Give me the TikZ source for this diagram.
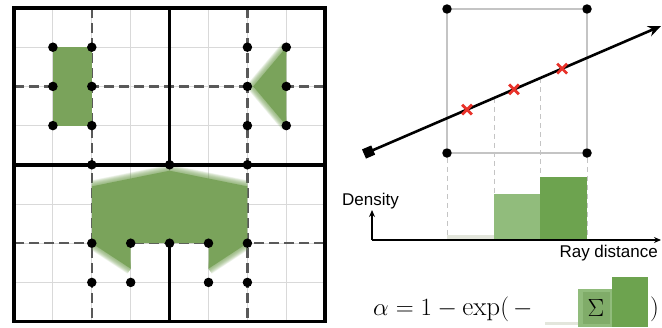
\documentclass[tikz,border=0pt]{standalone}
\usepackage{fontspec}
\newfontfamily\plotfont{Liberation Sans}
\usetikzlibrary{arrows.meta,calc,shapes.misc}
\definecolor{cellgreen}{HTML}{7AA35B}
\definecolor{binlight}{HTML}{91BC7C}
\definecolor{bindark}{HTML}{6DA34F}
\definecolor{binpale}{HTML}{E3E6DC}
\definecolor{sumgreen}{HTML}{80AC69}
\definecolor{boxgray}{HTML}{C4C4C4}
\definecolor{xred}{HTML}{E8322A}
\tikzset{
  dot/.style={circle,fill=black,inner sep=0pt,minimum size=9.5pt},
  sample/.style={cross out,draw=xred,line width=2.8pt,minimum size=7pt,inner sep=0pt},
  softedge/.style={cellgreen,opacity=.1,line join=round},
  plotlabel/.style={font=\plotfont\fontsize{17}{20}\selectfont,inner sep=0pt},
  mathbig/.style={inner sep=0pt,font=\fontsize{27}{32}\selectfont},
}

\begin{document}
\begin{tikzpicture}[x=1pt,y=-1pt]
  \useasboundingbox (0,0) rectangle (662,327);
  \begin{scope}[shift={(14pt,-8pt)},x=38.9pt,y=-39.2pt]
    \foreach \i in {1,...,7}{
      \draw[black!15,line width=1pt] (\i,0) -- (\i,8);
      \draw[black!15,line width=1pt] (0,\i) -- (8,\i);
    }
    \foreach \i in {2,6}{
      \draw[black!65,line width=2.4pt,dash pattern=on 10pt off 5pt] (\i,0) -- (\i,8);
      \draw[black!65,line width=2.4pt,dash pattern=on 10pt off 5pt] (0,\i) -- (8,\i);
    }
    \fill[cellgreen] (1,1) rectangle (2,3);
    \begin{scope}
      \clip (5,0) rectangle (7,4);
      \fill[cellgreen] (7,1) -- (6.15,2) -- (7,3) -- cycle;
      \foreach \w in {1,...,12}
        \draw[softedge,line width=\w*1pt] (7,1) -- (6.15,2) -- (7,3);
    \end{scope}
    \begin{scope}
      \clip (2,3.5) rectangle (6,6) (2,6) rectangle (3,7.5) (5,6) rectangle (6,7.5);
      \fill[cellgreen] (2,4.55) -- (4,4.15) -- (6,4.55) -- (6,6) -- (5,6.65) -- (5,6)
        -- (3,6) -- (3,6.65) -- (2,6) -- cycle;
      \foreach \w in {1,...,12}
        \draw[softedge,line width=\w*1pt] (2,4.55) -- (4,4.15) -- (6,4.55)
          (2,6) -- (3,6.65) (6,6) -- (5,6.65);
    \end{scope}
    \draw[line width=3.6pt] (0,0) rectangle (8,8);
    \draw[line width=3.6pt] (0,4) -- (8,4) (4,0) -- (4,4) (4,6) -- (4,8);
    \foreach \x/\y [count=\k] in {1/1,2/1,1/2,2/2,1/3,2/3,6/1,7/1,6/2,7/2,6/3,7/3,
        2/4,4/4,6/4,2/6,3/6,4/6,5/6,6/6,2/7,3/7,5/7,6/7}
      \node[dot] (g\k) at (\x,\y) {};
  \end{scope}

  \node[dot] (c1) at (447,9) {};
  \node[dot] (c2) at (587,9) {};
  \node[dot] (c3) at (447,153) {};
  \node[dot] (c4) at (587,153) {};
  \draw[boxgray,line width=2.4pt] (c1) -- (c2) -- (c4) -- (c3) -- (c1);
  \coordinate (axo) at (372,240);
  \coordinate (axx) at (661,240);
  \coordinate (axy) at (372,210);
  \coordinate (rs) at (364,154);
  \coordinate (re) at (661,26);
  \coordinate (m1) at ($(rs)!.438!(re)$);
  \coordinate (m2) at ($(rs)!.593!(re)$);
  \foreach \p in {c3,c4,m1,m2}
    \draw[boxgray,line width=1pt,dash pattern=on 5pt off 4pt] (\p) -- (\p |- axo);
  \fill[binpale] (447,235) rectangle (494,240);
  \fill[binlight] (494,194) rectangle (540,240);
  \fill[bindark] (540,177) rectangle (587,240);
  \draw[line width=2.6pt,{Square[length=10pt,width=10pt]}-{Stealth[length=13pt,width=11pt]}] (rs) -- (re);
  \foreach \t/\n in {.347/s1,.505/s2,.667/s3}
    \node[sample] (\n) at ($(rs)!\t!(re)$) {};
  \draw[line width=1.2pt,-{Stealth[length=7pt,width=6pt]}] (axy |- axo) -- (axx);
  \draw[line width=1.2pt,-{Stealth[length=7pt,width=6pt]}] (axo) -- (axy);
  \node[plotlabel,anchor=base west] (dens) at (342,205) {Density};
  \node[plotlabel,anchor=base east] (rayd) at (658,257) {Ray distance};

  \node[mathbig,anchor=base west] (alpha) at (373,315) {$\alpha=1-\exp\Bigl(\,-$};
  \fill[binpale] (545,322) rectangle (578,325);
  \fill[binlight] (578,289) rectangle (612,327);
  \fill[bindark] (612,277) rectangle (648,327);
  \node[mathbig,fill=sumgreen,minimum width=27pt,minimum height=32pt] (sum) at (596,308) {$\Sigma$};
  \node[mathbig,anchor=base west] (close) at (650,315) {$\Bigr)$};
\end{tikzpicture}
\end{document}
